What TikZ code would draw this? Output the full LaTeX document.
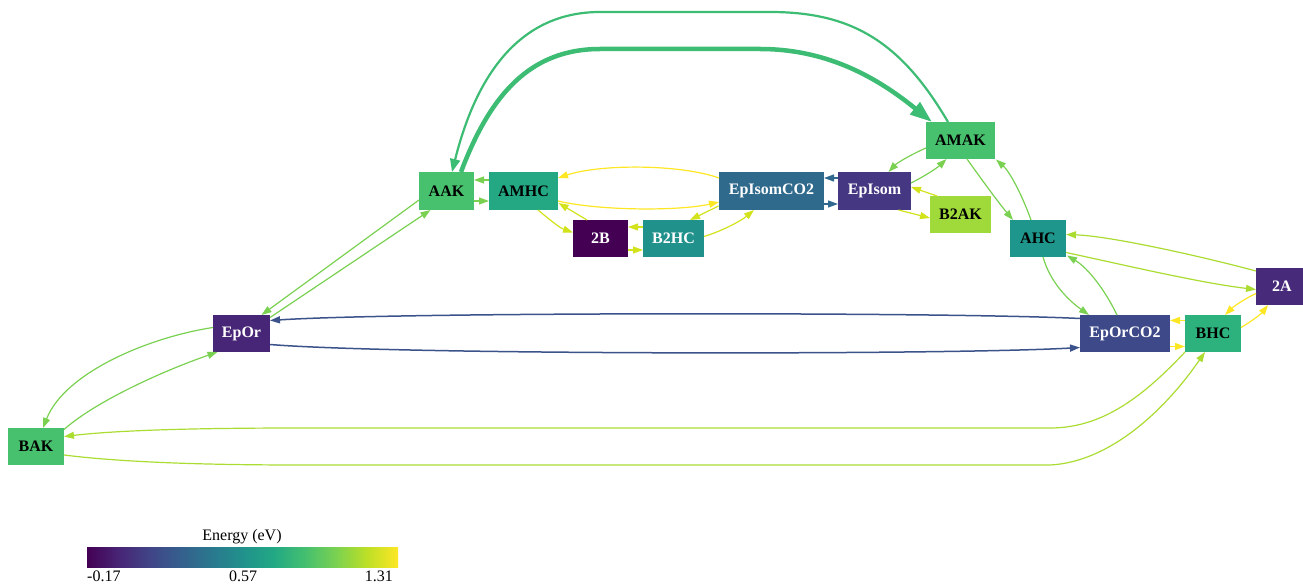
\documentclass[tikz,border=0pt]{standalone}
\usepackage{fontspec}
\setmainfont{Liberation Serif}
\usetikzlibrary{arrows.meta,calc}

% viridis palette
\definecolor{v00}{HTML}{440154}
\definecolor{v01}{HTML}{482475}
\definecolor{v02}{HTML}{414487}
\definecolor{v03}{HTML}{355F8D}
\definecolor{v04}{HTML}{2A788E}
\definecolor{v05}{HTML}{21918C}
\definecolor{v06}{HTML}{22A884}
\definecolor{v07}{HTML}{44BF70}
\definecolor{v08}{HTML}{7AD151}
\definecolor{v09}{HTML}{BDDF26}
\definecolor{v10}{HTML}{FDE725}

% node fills
\definecolor{nAAK}{HTML}{48C16E}
\definecolor{nAMHC}{HTML}{24A884}
\definecolor{nESC}{HTML}{2F6A8D}
\definecolor{nES}{HTML}{453781}
\definecolor{nB2AK}{HTML}{9FDA3A}
\definecolor{nB2}{HTML}{440154}
\definecolor{nB2HC}{HTML}{21918C}
\definecolor{nAHC}{HTML}{1F968B}
\definecolor{nA2}{HTML}{472A7A}
\definecolor{nEpOr}{HTML}{482677}
\definecolor{nEOC}{HTML}{3E4989}
\definecolor{nBHC}{HTML}{2DB27D}

% edge colours
\definecolor{eArc}{HTML}{3DBC74}
\definecolor{eG}{HTML}{7AD151}
\definecolor{eYG}{HTML}{ABDC31}
\definecolor{eLY}{HTML}{D2E21B}
\definecolor{eY}{HTML}{FDE725}
\definecolor{eBlue}{HTML}{3B528B}
\definecolor{eTeal}{HTML}{31688E}

\pgfdeclarehorizontalshading{viridisbar}{100bp}{%
  color(0bp)=(v00); color(25bp)=(v00); color(30bp)=(v01); color(35bp)=(v02);
  color(40bp)=(v03); color(45bp)=(v04); color(50bp)=(v05); color(55bp)=(v06);
  color(60bp)=(v07); color(65bp)=(v08); color(70bp)=(v09); color(75bp)=(v10);
  color(100bp)=(v10)}

\begin{document}
\begin{tikzpicture}[x=1pt,y=-1pt,
  box/.style={rectangle, inner sep=0pt, minimum height=37.5pt,
    font=\bfseries\fontsize{16}{18}\selectfont},
  lt/.style={box, text=black},
  dk/.style={box, text=white},
  edge/.style={line width=1.2pt, -{Triangle[length=10pt,width=7pt]}},
  lbl/.style={inner sep=0pt, font=\fontsize{16}{18}\selectfont}]
\useasboundingbox (0,0) rectangle (1303,585);

% states
\node[lt, fill=nAAK,  minimum width=55pt]  (AAK)  at (446.5,191)   {AAK};
\node[lt, fill=nAMHC, minimum width=69pt]  (AMHC) at (523.5,191)   {AMHC};
\node[dk, fill=nESC,  minimum width=105pt] (ESC)  at (771.5,191)   {EpIsomCO2};
\node[dk, fill=nES,   minimum width=73pt]  (ES)   at (874.5,191)   {EpIsom};
\node[lt, fill=nAAK,  minimum width=69pt]  (AMAK) at (960.5,140.5) {AMAK};
\node[lt, fill=nB2AK, minimum width=61pt]  (B2AK) at (960.5,214.5) {B2AK};
\node[dk, fill=nB2,   minimum width=55pt]  (B2)   at (600.5,238.5) {2B};
\node[dk, fill=nB2HC, minimum width=61pt]  (B2HC) at (673.5,238.5) {B2HC};
\node[lt, fill=nAHC,  minimum width=56pt]  (AHC)  at (1038,238.5)  {AHC};
\node[dk, fill=nA2,   minimum width=47pt]  (A2)   at (1279.5,286.5) {\hspace*{5pt}2A};
\node[dk, fill=nEpOr, minimum width=57pt]  (EpOr) at (241.5,333.5) {EpOr};
\node[dk, fill=nEOC,  minimum width=90pt]  (EOC)  at (1125,333.5)  {EpOrCO2};
\node[lt, fill=nBHC,  minimum width=56pt]  (BHC)  at (1213,333.5)  {BHC};
\node[lt, fill=nAAK,  minimum width=56pt]  (BAK)  at (36,446.5)    {BAK};

% AAK <-> AMAK over the top
\draw[line width=2.2pt, draw=eArc, -{Triangle[length=13pt,width=10pt]}]
  ($(AMAK)+(-12.5,-18.5)$) .. controls (900,40) and (850,12) .. (770,12)
  -- (600,12) .. controls (530,12) and (480,60) .. ($(AAK)+(5.5,-19)$);
\draw[line width=4.5pt, draw=eArc, -{Triangle[length=22pt,width=15pt]}]
  ($(AAK)+(14.5,-19)$) .. controls (490,95) and (530,49) .. (600,49)
  -- (760,49) .. controls (830,49) and (880,80) .. ($(AMAK)+(-28.5,-18.5)$);

% AAK / AMHC
\draw[edge, draw=eG] ($(AMHC)+(-34.5,-11)$) -- ($(AAK)+(27.5,-11)$);
\draw[edge, draw=eG] ($(AAK)+(27.5,10)$) -- ($(AMHC)+(-34.5,10)$);

% AMHC / EpIsomCO2
\draw[edge, draw=eY] ($(ESC)+(-52.5,-13)$) .. controls (680,164) and (600,164) .. ($(AMHC)+(34.5,-13)$);
\draw[edge, draw=eY] ($(AMHC)+(34.5,10)$) .. controls (600,211) and (680,211) .. ($(ESC)+(-52.5,11)$);

% AMHC / 2B / B2HC
\draw[edge, draw=eLY] ($(AMHC)+(14.5,19)$) .. controls (550,220) and (560,228) .. ($(B2)+(-27.5,-6)$);
\draw[edge, draw=eLY] ($(B2)+(-13.5,-18.5)$) -- ($(AMHC)+(35,12)$);
\draw[edge, draw=eLY] ($(B2HC)+(-30.5,-11.5)$) -- ($(B2)+(27.5,-11.5)$);
\draw[edge, draw=eLY] ($(B2)+(27.5,11.5)$) -- ($(B2HC)+(-30.5,11.5)$);

% B2HC / EpIsomCO2
\draw[edge, draw=eLY] ($(B2HC)+(30.5,-2)$) .. controls (725,230) and (742,220) .. ($(ESC)+(-17.5,19)$);
\draw[edge, draw=eLY] ($(ESC)+(-53,15)$) -- ($(B2HC)+(16.5,-18.5)$);

% EpIsom / EpIsomCO2
\draw[edge, draw=eTeal] ($(ES)+(-36.5,-13)$) -- ($(ESC)+(52.5,-13)$);
\draw[edge, draw=eTeal] ($(ESC)+(52.5,13)$) -- ($(ES)+(-36.5,13)$);

% EpIsom / AMAK / B2AK
\draw[edge, draw=eG] ($(AMAK)+(-34.5,7.5)$) .. controls (910,155) and (897,163) .. ($(ES)+(14,-19)$);
\draw[edge, draw=eG] ($(ES)+(36.5,-8)$) .. controls (925,176) and (937,168) .. ($(AMAK)+(-14,18.5)$);
\draw[edge, draw=eLY] ($(B2AK)+(-23.5,-18.5)$) -- ($(ES)+(36.5,-4)$);
\draw[edge, draw=eLY] ($(ES)+(24,19)$) -- ($(B2AK)+(-30.5,3.5)$);

% AMAK / AHC
\draw[edge, draw=eG] ($(AMAK)+(6.5,18.5)$) .. controls (982,180) and (998,202) .. ($(AHC)+(-25,-18.5)$);
\draw[edge, draw=eG] ($(AHC)+(-7,-18.5)$) .. controls (1022,195) and (1010,172) .. ($(AMAK)+(35.5,19)$);

% AHC / 2A
\draw[edge, draw=eYG] ($(A2)+(-23.5,-15.5)$) .. controls (1200,256) and (1110,236) .. ($(AHC)+(28,-4)$);
\draw[edge, draw=eYG] ($(AHC)+(28,14)$) .. controls (1120,264) and (1200,283) .. ($(A2)+(-23.5,3)$);

% AHC / EpOrCO2
\draw[edge, draw=eG] ($(AHC)+(5,18.5)$) .. controls (1050,282) and (1068,300) .. ($(EOC)+(-36,-18.5)$);
\draw[edge, draw=eG] ($(EOC)+(-8,-18.5)$) .. controls (1105,290) and (1088,268) .. ($(AHC)+(29,17)$);

% EpOrCO2 / BHC / 2A
\draw[edge, draw=eY] ($(BHC)+(-28,-13)$) -- ($(EOC)+(45,-13)$);
\draw[edge, draw=eY] ($(EOC)+(45,13)$) -- ($(BHC)+(-28,13)$);
\draw[edge, draw=eY] ($(A2)+(-23.5,7)$) .. controls (1242,300) and (1232,308) .. ($(BHC)+(12,-18.5)$);
\draw[edge, draw=eY] ($(BHC)+(28,-6)$) .. controls (1252,321) and (1261,314) .. ($(A2)+(-11.5,18.5)$);

% EpOr / EpOrCO2
\draw[edge, line width=1.5pt, draw=eBlue] ($(EOC)+(-45,-15)$) .. controls (950,312) and (400,312) .. ($(EpOr)+(28.5,-13)$);
\draw[edge, line width=1.5pt, draw=eBlue] ($(EpOr)+(28.5,11)$) .. controls (400,355) and (950,355) .. ($(EOC)+(-45,14)$);

% AAK / EpOr
\draw[edge, draw=eG] ($(AAK)+(-27.5,9)$) -- ($(EpOr)+(20,-18.5)$);
\draw[edge, draw=eG] ($(EpOr)+(28.5,-16)$) -- ($(AAK)+(-16,19)$);

% EpOr / BAK
\draw[edge, draw=eG] ($(EpOr)+(-28.5,-6)$) .. controls (150,337) and (65,372) .. ($(BAK)+(7,-18.5)$);
\draw[edge, draw=eG] ($(BAK)+(28,-17)$) .. controls (95,402) and (160,372) .. ($(EpOr)+(-24,18.5)$);

% BAK / BHC along the bottom
\draw[edge, draw=eYG] ($(BHC)+(-28,18.5)$) .. controls (1140,400) and (1100,428) .. (1050,428)
  -- (300,428) .. controls (200,428) and (120,430) .. ($(BAK)+(28,-10)$);
\draw[edge, draw=eYG] ($(BAK)+(28,8.5)$) .. controls (120,462) and (200,465) .. (300,465)
  -- (1050,465) .. controls (1110,462) and (1165,410) .. ($(BHC)+(-8,18.5)$);

% energy colour bar
\node[lbl, anchor=base] (cbtitle) at (242,540) {Energy (eV)};
\node[inner sep=0pt, minimum width=311pt, minimum height=20pt, shading=viridisbar] (cbar) at (242.5,557) {};
\node[lbl, anchor=base west] (cbmin) at (87,581) {-0.17};
\node[lbl, anchor=base] (cbmid) at (243,581) {0.57};
\node[lbl, anchor=base east] (cbmax) at (393,581) {1.31};
\end{tikzpicture}
\end{document}
